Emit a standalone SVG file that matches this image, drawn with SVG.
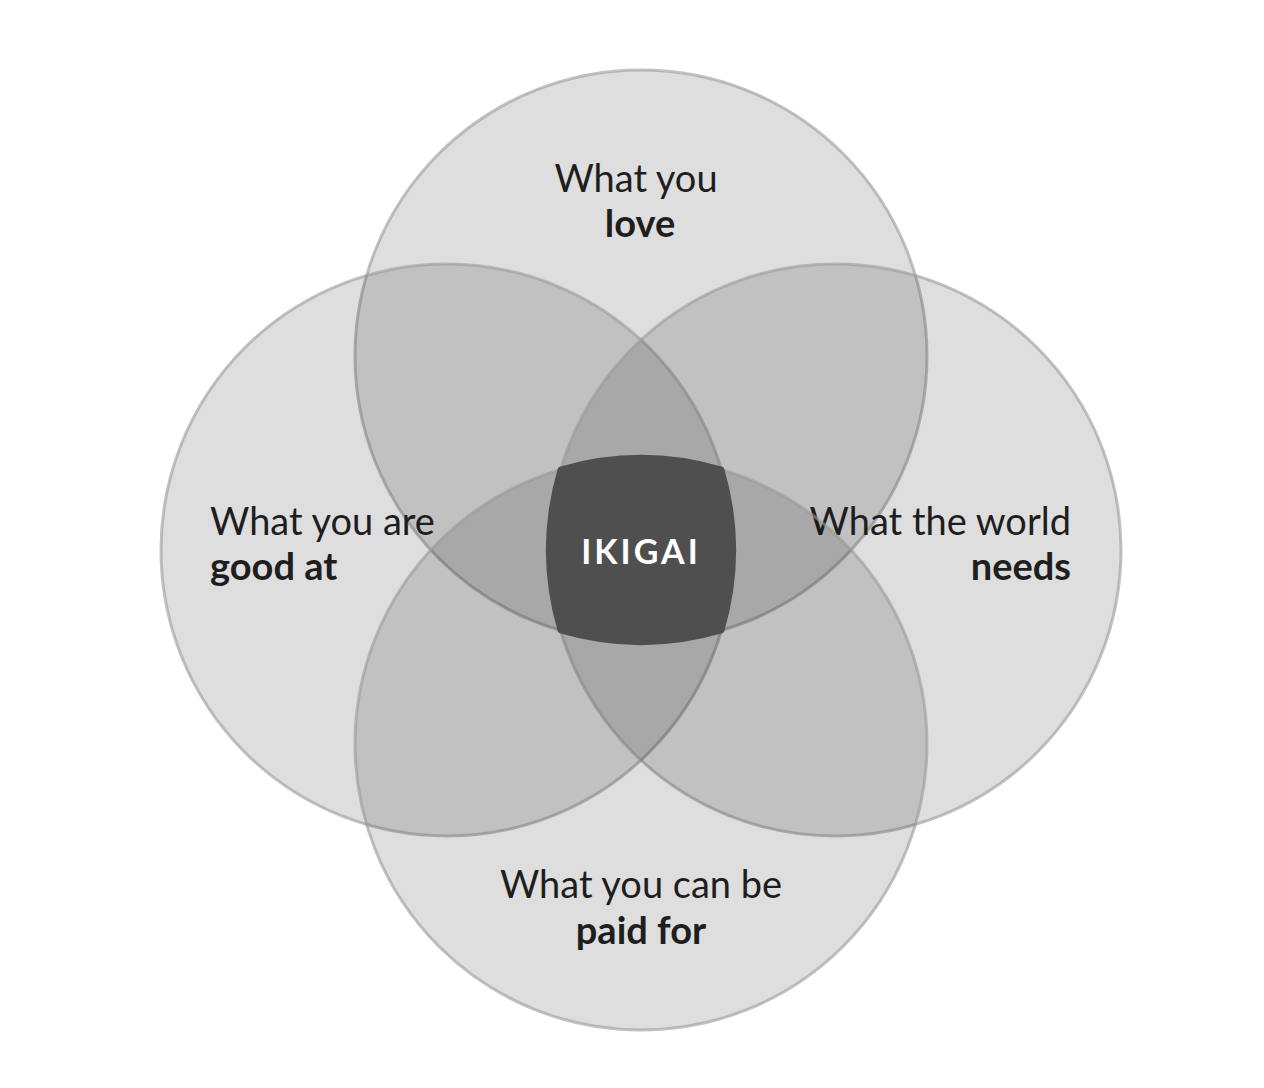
<svg xmlns="http://www.w3.org/2000/svg" width="1264" height="1088" viewBox="0 0 1264 1088">
<style>
.c{fill:#000;fill-opacity:0.13;stroke:#9a9a9a;stroke-opacity:0.6;stroke-width:3}
.t{font-family:Lato,"Liberation Sans",sans-serif;font-size:38px;fill:#1e1e1e}
.b{font-weight:bold}
</style>
<rect width="1264" height="1088" fill="#fff"/>
<g id="love"><circle class="c" cx="641" cy="356" r="286"/>
<text class="t" x="636" y="192" text-anchor="middle">What you</text>
<text class="t b" x="640" y="237" text-anchor="middle">love</text></g>
<g id="good"><circle class="c" cx="447" cy="550" r="286"/>
<text class="t" x="210" y="535">What you are</text>
<text class="t b" x="210" y="580">good at</text></g>
<g id="needs"><circle class="c" cx="835" cy="550" r="286"/>
<text class="t" x="1071" y="535" text-anchor="end">What the world</text>
<text class="t b" x="1071" y="580" text-anchor="end">needs</text></g>
<g id="paid"><circle class="c" cx="641" cy="744" r="286"/>
<text class="t" x="641" y="898" text-anchor="middle">What you can be</text>
<text class="t b" x="641" y="944" text-anchor="middle">paid for</text></g>
<g id="ikigai">
<path d="M560.6,469.6 A286 286 0 0 1 721.4,469.6 A286 286 0 0 1 721.4,630.4 A286 286 0 0 1 560.6,630.4 A286 286 0 0 1 560.6,469.6 Z" fill="#4f4f4f" stroke="#4f4f4f" stroke-width="6" stroke-linejoin="round"/>
<text x="641" y="564" text-anchor="middle" font-family="Lato,'Liberation Sans',sans-serif" font-weight="bold" font-size="34" letter-spacing="3" fill="#fff">IKIGAI</text></g>
<g id="connectors"/>
</svg>
